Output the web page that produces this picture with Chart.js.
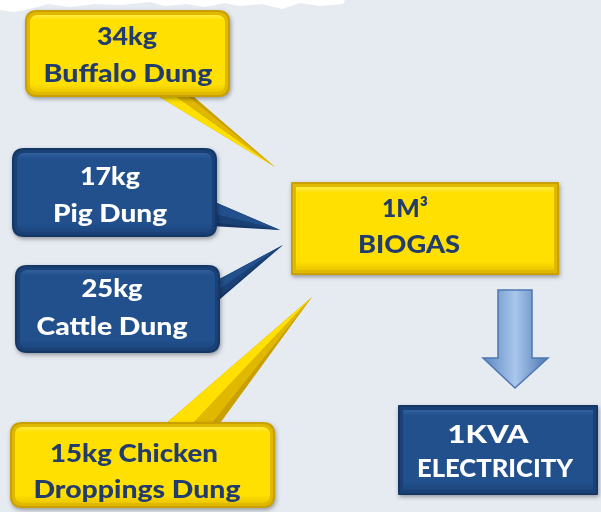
<!DOCTYPE html>
<html>
<head>
<meta charset="utf-8">
<script src="https://cdn.jsdelivr.net/npm/chart.js@4/dist/chart.umd.min.js"></script>
<style>
  html, body { margin: 0; padding: 0; background: #e6ebf2; }
  #wrap { width: 601px; height: 512px; }
</style>
</head>
<body>
<div id="wrap"><canvas id="myChart" width="601" height="512"></canvas></div>
<script>
// values
const kgValues = [34, 17, 25, 15];
const feedstocks = ['Buffalo Dung', 'Pig Dung', 'Cattle Dung', 'Chicken Droppings Dung'];
const biogasLines = ['1M³', 'BIOGAS'];
const powerLines = ['1KVA', 'ELECTRICITY'];

// layout (in a 601 x 512 space, mapped through the hidden scales)
const calloutLayout = [
    { box: [25, 10, 205, 87], ptr: [[148, 90], [186, 90], [275, 167]], pal: 'yellow', split: 0, lines: [[127, 45, 60], [128, 82, 169]] },
    { box: [12, 148, 205, 89], ptr: [[210, 200], [210, 226], [280, 230]], pal: 'blue', split: 0, lines: [[110, 185, 60], [110, 222, 114]] },
    { box: [15, 265, 205, 88], ptr: [[212, 283], [212, 306], [283, 245]], pal: 'blue', split: 0, lines: [[112, 297, 61], [112, 335, 151]] },
    { box: [10, 422, 265, 86], ptr: [[163, 426], [218, 426], [312, 297]], pal: 'yellow', split: 1, lines: [[134, 462, 168], [137, 498, 207]] }
];
const biogasBox = { box: [291, 182, 268, 93], pal: 'yellow', lines: [[405, 217, 46], [409, 253, 102]] };
const powerBox = { box: [398, 405, 200, 90], pal: 'blue', lines: [[488, 443, 81], [495, 477, 156]] };
const arrowShape = { x0: 498, x1: 532, top: 290, neck: 358, hx0: 483, hx1: 548, tip: 388 };

const palettes = {
    yellow: { edge: '#c9a000', main: '#ffe000', light: '#fff37a', dark: '#e0b800', text: '#233c6e' },
    blue: { edge: '#143766', main: '#21508d', light: '#3e6fab', dark: '#1a4176', text: '#ffffff' }
};

function rrect(ctx, x, y, w, h, r) {
    ctx.beginPath();
    ctx.moveTo(x + r, y);
    ctx.lineTo(x + w - r, y);
    ctx.quadraticCurveTo(x + w, y, x + w, y + r);
    ctx.lineTo(x + w, y + h - r);
    ctx.quadraticCurveTo(x + w, y + h, x + w - r, y + h);
    ctx.lineTo(x + r, y + h);
    ctx.quadraticCurveTo(x, y + h, x, y + h - r);
    ctx.lineTo(x, y + r);
    ctx.quadraticCurveTo(x, y, x + r, y);
    ctx.closePath();
}

// same height for every line, squeezed sideways to the width seen in the picture
function fitText(ctx, text, cx, by, width, color) {
    ctx.save();
    ctx.font = '900 24px Lato';
    let w = ctx.measureText(text).width;
    ctx.translate(cx, by);
    ctx.scale(width / w, 1);
    ctx.fillStyle = color;
    ctx.textAlign = 'center';
    ctx.textBaseline = 'alphabetic';
    ctx.fillText(text, 0, 0);
    ctx.restore();
}

function drawBox(ctx, P, b, radius, pal) {
    let [x, y, w, h] = b;
    let x0 = P.x(x), y0 = P.y(y), x1 = P.x(x + w), y1 = P.y(y + h);
    w = x1 - x0; h = y1 - y0;
    ctx.save();
    ctx.shadowColor = 'rgba(0,0,0,0.35)';
    ctx.shadowBlur = 4;
    ctx.shadowOffsetX = 1;
    ctx.shadowOffsetY = 2;
    rrect(ctx, x0, y0, w, h, radius);
    ctx.fillStyle = pal.edge;
    ctx.fill();
    ctx.restore();
    // bevel
    rrect(ctx, x0 + 2, y0 + 2, w - 4, h - 4, Math.max(radius - 2, 0));
    ctx.fillStyle = pal.dark;
    ctx.fill();
    let g = ctx.createLinearGradient(0, y0, 0, y1);
    g.addColorStop(0, pal.light);
    g.addColorStop(0.12, pal.main);
    g.addColorStop(0.85, pal.main);
    g.addColorStop(1, pal.dark);
    rrect(ctx, x0 + 5, y0 + 5, w - 10, h - 10, Math.max(radius - 4, 0));
    ctx.fillStyle = g;
    ctx.fill();
}

function drawPointer(ctx, P, ptr, pal) {
    let a = { x: P.x(ptr[0][0]), y: P.y(ptr[0][1]) };
    let b = { x: P.x(ptr[1][0]), y: P.y(ptr[1][1]) };
    let t = { x: P.x(ptr[2][0]), y: P.y(ptr[2][1]) };
    let m = { x: (a.x + b.x) / 2, y: (a.y + b.y) / 2 };
    ctx.beginPath();
    ctx.moveTo(a.x, a.y); ctx.lineTo(t.x, t.y); ctx.lineTo(b.x, b.y); ctx.closePath();
    ctx.fillStyle = pal.edge;
    ctx.fill();
    ctx.beginPath();
    ctx.moveTo(a.x, a.y); ctx.lineTo(t.x, t.y); ctx.lineTo(m.x, m.y); ctx.closePath();
    ctx.fillStyle = pal.main;
    ctx.fill();
    ctx.beginPath();
    ctx.moveTo(m.x, m.y); ctx.lineTo(t.x, t.y); ctx.lineTo(b.x - (b.x - m.x) * 0.3, b.y - (b.y - m.y) * 0.3); ctx.closePath();
    ctx.fillStyle = pal.dark;
    ctx.fill();
}

function drawLines(ctx, P, texts, lines, pal) {
    texts.forEach((t, i) => {
        let [cx, by, w] = lines[i];
        fitText(ctx, t, P.x(cx), P.y(by), P.x(w) - P.x(0), pal.text);
    });
}

const infographic = {
    id: 'infographic',
    afterDraw(chart) {
        const ctx = chart.ctx;
        const sx = chart.scales.x, sy = chart.scales.y;
        const P = { x: v => sx.getPixelForValue(v), y: v => sy.getPixelForValue(v) };
        ctx.save();

        // torn white strip along the top
        const torn = [[0, 0], [345, 0], [343, 4], [320, 6], [300, 3], [282, 9], [262, 4], [240, 6], [225, 3], [205, 7], [186, 4],
            [165, 6], [150, 2], [120, 5], [95, 4], [70, 7], [48, 4], [30, 9], [14, 12], [0, 10]];
        ctx.beginPath();
        torn.forEach((p, i) => i ? ctx.lineTo(P.x(p[0]), P.y(p[1])) : ctx.moveTo(P.x(p[0]), P.y(p[1])));
        ctx.closePath();
        ctx.fillStyle = '#ffffff';
        ctx.fill();

        // input callouts
        calloutLayout.forEach((c, i) => {
            const pal = palettes[c.pal];
            drawPointer(ctx, P, c.ptr, pal);
            drawBox(ctx, P, c.box, 12, pal);
            const words = feedstocks[i].split(' ');
            const first = [kgValues[i] + 'kg'].concat(words.slice(0, c.split)).join(' ');
            const second = words.slice(c.split).join(' ');
            drawLines(ctx, P, [first, second], c.lines, pal);
        });

        // biogas box
        drawBox(ctx, P, biogasBox.box, 1, palettes.yellow);
        drawLines(ctx, P, biogasLines, biogasBox.lines, palettes.yellow);

        // arrow
        const A = arrowShape;
        const path = [[A.x0, A.top], [A.x1, A.top], [A.x1, A.neck], [A.hx1, A.neck], [(A.x0 + A.x1) / 2, A.tip], [A.hx0, A.neck], [A.x0, A.neck]];
        ctx.beginPath();
        path.forEach((p, i) => i ? ctx.lineTo(P.x(p[0]), P.y(p[1])) : ctx.moveTo(P.x(p[0]), P.y(p[1])));
        ctx.closePath();
        let g = ctx.createLinearGradient(P.x(A.hx0), 0, P.x(A.hx1), 0);
        g.addColorStop(0, '#5d87c0');
        g.addColorStop(0.5, '#a9c6ec');
        g.addColorStop(1, '#4a76b2');
        ctx.fillStyle = g;
        ctx.fill();
        ctx.strokeStyle = '#4c78b0';
        ctx.lineWidth = 1.5;
        ctx.stroke();

        // electricity box
        drawBox(ctx, P, powerBox.box, 1, palettes.blue);
        drawLines(ctx, P, powerLines, powerBox.lines, palettes.blue);

        ctx.restore();
    }
};

const ctx = document.getElementById('myChart').getContext('2d');
const myChart = new Chart(ctx, {
    type: 'scatter',
    data: {
        labels: feedstocks,
        datasets: [{ label: 'kg per 1 m³ biogas', data: [], pointRadius: 0 }]
    },
    options: {
        responsive: false,
        animation: false,
        layout: { padding: 0 },
        plugins: { legend: { display: false }, tooltip: { enabled: false } },
        scales: {
            x: { type: 'linear', min: 0, max: 601, display: false },
            y: { type: 'linear', min: 0, max: 512, reverse: true, display: false }
        }
    },
    plugins: [infographic]
});
</script>
</body>
</html>
